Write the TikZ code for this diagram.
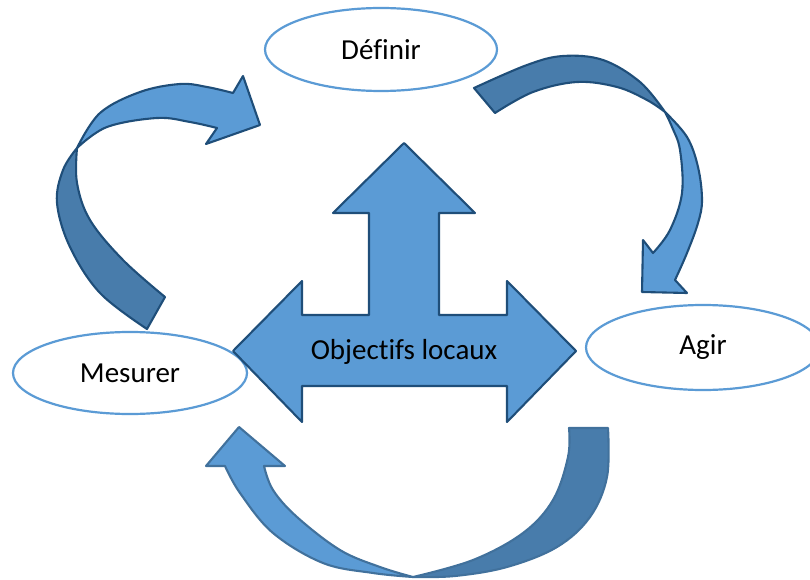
\documentclass[tikz,border=0pt]{standalone}
\usepackage{fontspec}
\setmainfont{Carlito}[Ligatures=CommonOff]
\usetikzlibrary{shapes.geometric}
\definecolor{boxblue}{HTML}{5B9BD5}
\definecolor{shadeblue}{HTML}{487CAB}
\definecolor{edgeblue}{HTML}{1F4E79}
\definecolor{softedge}{HTML}{41719C}
\begin{document}
\begin{tikzpicture}[x=1pt,y=-1pt,
  ell/.style={ellipse, draw=boxblue, line width=2.2pt, fill=white, inner sep=0pt,
    font=\fontsize{29}{34}\selectfont},
  facepart/.style={fill=boxblue, draw=edgeblue, line width=2.1pt, line join=round},
  backpart/.style={fill=shadeblue, draw=edgeblue, line width=2.1pt, line join=round},
  smoothline/.style={smooth, tension=0.6}]
\useasboundingbox (0,0) rectangle (810,580);

% the three steps of the cycle
\node[ell, minimum width=232pt, minimum height=83pt] (def) at (381,49.5) {Définir};
\node[ell, minimum width=234pt, minimum height=82pt] (mes) at (130,373) {Mesurer};
\node[ell, minimum width=234pt, minimum height=85pt] (agi) at (703,347.5) {Agir};

% three-headed arrow in the middle
\draw[facepart] (404,143) -- (475,213) -- (439,213) -- (439,315) -- (507,315)
  -- (507,281) -- (576,351) -- (507,422) -- (507,386) -- (302,386) -- (302,422)
  -- (233,351) -- (302,281) -- (302,315) -- (369,315) -- (369,213) -- (333,213) -- cycle;
\node[font=\fontsize{29}{34}\selectfont] (obj) at (404,352) {Objectifs locaux};

% Définir -> Agir
\draw[backpart] plot[smoothline] coordinates {(474,88) (527,65) (563,56) (603,60) (640,82) (665,112)}
  -- plot[smoothline] coordinates {(665,112) (647,100) (617,87) (577,82) (533,92) (495,113)} -- cycle;
\draw[facepart] plot[smoothline] coordinates {(665,112) (687,137) (698,167) (702,200) (698,223) (687,253) (675,280)}
  -- (687,293) -- (642,292) -- (643,240)
  -- plot[smoothline] coordinates {(653,253) (670,230) (682,193) (680,150) (672,127) (665,112)} -- cycle;

% Mesurer -> Définir
\draw[backpart] plot[smoothline] coordinates {(147,329) (100,293) (70,247) (57,203) (63,170) (77,148)}
  -- plot[smoothline] coordinates {(77,148) (77,183) (90,220) (123,260) (165,297)} -- cycle;
\draw[facepart] plot[smoothline] coordinates {(77,148) (100,113) (140,92) (180,84) (207,87) (233,93)}
  -- (243,76) -- (260,125) -- (206,144)
  -- plot[smoothline] coordinates {(217,128) (190,122) (157,118) (107,127) (77,148)} -- cycle;

% Agir -> Mesurer
\draw[backpart, draw=softedge] (569,428) -- (608,428)
  -- plot[smoothline] coordinates {(608,428) (607,477) (590,517) (557,547) (507,567) (455,576) (413,577)}
  -- plot[smoothline] coordinates {(413,577) (473,560) (523,533) (553,500) (568,457) (569,428)} -- cycle;
\draw[facepart, draw=softedge] plot[smoothline] coordinates {(413,577) (373,573) (323,563) (273,533) (240,493) (225,466)}
  -- (206,466) -- (239,427) -- (285,466) -- (264,466)
  -- plot[smoothline] coordinates {(264,466) (273,490) (297,517) (340,550) (380,567) (413,577)} -- cycle;
\end{tikzpicture}
\end{document}
